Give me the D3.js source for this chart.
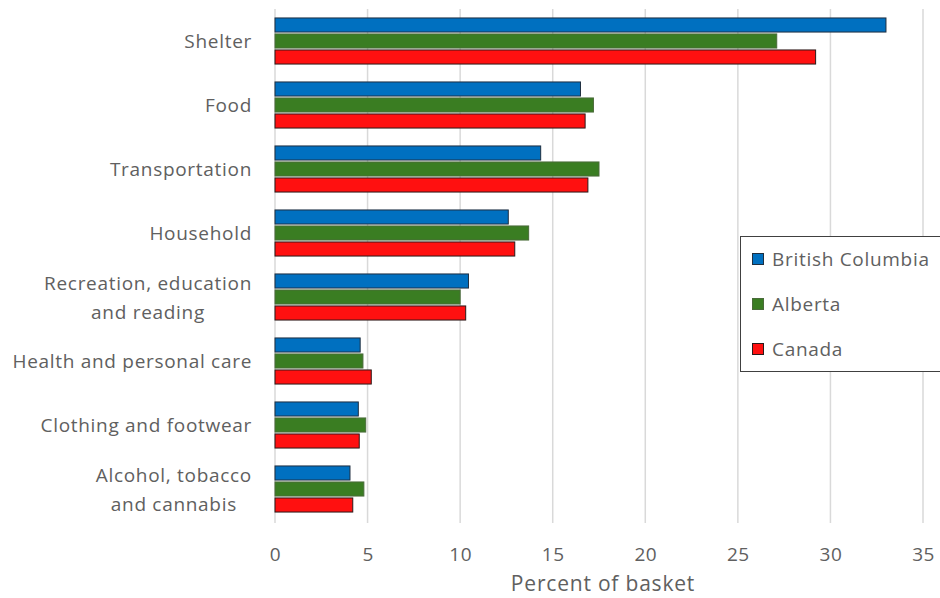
<!DOCTYPE html>
<html>
<head>
<meta charset="utf-8">
<script src="https://cdn.jsdelivr.net/npm/d3@7"></script>
<style>
  html, body { margin: 0; padding: 0; background: #fff; }
  svg text { font-family: "Open Sans", "Noto Sans", sans-serif; fill: #606060; }
</style>
</head>
<body>
<svg id="chart" width="940" height="598"></svg>
<script>
// Basket weights by component (percent)
const categories = [
  ["Shelter"],
  ["Food"],
  ["Transportation"],
  ["Household"],
  ["Recreation, education", "and reading"],
  ["Health and personal care"],
  ["Clothing and footwear"],
  ["Alcohol, tobacco", "and cannabis"]
];
const seriesNames = ["British Columbia", "Alberta", "Canada"];
const britishColumbia = [33.0, 16.5, 14.35, 12.6, 10.45, 4.6, 4.5, 4.05];
const alberta         = [27.1, 17.2, 17.5, 13.7, 10.0, 4.75, 4.9, 4.8];
const canada          = [29.2, 16.75, 16.9, 12.95, 10.3, 5.2, 4.55, 4.2];
const xTicks = [0, 5, 10, 15, 20, 25, 30, 35];
const colors = ["#0070C0", "#3A7D22", "#FF1010"];
const strokes = ["#1f2f40", "#4a6b3a", "#2a1a1a"];

const svg = d3.select("#chart");
const plot = { left: 275, right: 923, top: 9, bottom: 521 };

const x = d3.scaleLinear().domain([0, 35]).range([plot.left, plot.right]);
const y = d3.scaleBand().domain(d3.range(categories.length))
  .range([plot.top, plot.bottom]).paddingInner(0.28).paddingOuter(0.14);
const ySub = d3.scaleBand().domain(d3.range(3)).range([0, y.bandwidth()]).paddingInner(0.12);

// Vertical gridlines
svg.append("g")
  .selectAll("line").data(xTicks).join("line")
  .attr("x1", d => x(d)).attr("x2", d => x(d))
  .attr("y1", plot.top).attr("y2", plot.bottom + 2)
  .attr("stroke", "#d9d9d9").attr("stroke-width", 1.5);

// Bars
const seriesData = [britishColumbia, alberta, canada];
seriesData.forEach((vals, s) => {
  svg.append("g")
    .selectAll("rect").data(vals).join("rect")
    .attr("x", x(0))
    .attr("y", (d, i) => y(i) + ySub(s))
    .attr("width", d => x(d) - x(0))
    .attr("height", ySub.bandwidth())
    .attr("fill", colors[s])
    .attr("stroke", strokes[s])
    .attr("stroke-width", 1);
});

// X axis tick labels
const xAxis = d3.axisBottom(x).tickValues(xTicks).tickSize(0).tickPadding(0);
const gx = svg.append("g").attr("transform", `translate(0,${plot.bottom})`).call(xAxis);
gx.select(".domain").remove();
gx.selectAll("text")
  .attr("y", 40).attr("dy", 0)
  .style("font-size", "19px")
  .style("letter-spacing", "0.5px")
  .style("font-family", "'Open Sans', 'Noto Sans', sans-serif")
  .attr("fill", "#606060");

// Category labels (multi-line labels are centered on each other, block right-aligned)
const gy = svg.append("g");
categories.forEach((lines, i) => {
  const cy = y(i) + y.bandwidth() / 2;
  const t = gy.append("text")
    .attr("text-anchor", "middle")
    .style("font-size", "19px")
    .style("letter-spacing", "0.7px");
  const lh = 29;
  const startY = cy - (lines.length - 1) * lh / 2 + 7;
  lines.forEach((ln, j) => {
    t.append("tspan").attr("x", 0).attr("y", startY + j * lh).text(ln);
  });
  const bbox = t.node().getBBox();
  t.attr("transform", `translate(${252 - bbox.x - bbox.width},0)`);
});

// Axis title
svg.append("text")
  .attr("x", (plot.left + plot.right) / 2 + 4)
  .attr("y", 591)
  .attr("text-anchor", "middle")
  .style("font-size", "21px")
  .style("letter-spacing", "0.8px")
  .text("Percent of basket");

// Legend
const legend = svg.append("g");
legend.append("rect")
  .attr("x", 740.5).attr("y", 236.5).attr("width", 215).attr("height", 135)
  .attr("fill", "#fff").attr("stroke", "#404040").attr("stroke-width", 1);
seriesNames.forEach((name, i) => {
  const cy = 259 + i * 45;
  legend.append("rect")
    .attr("x", 752.5).attr("y", cy - 5.5).attr("width", 11).attr("height", 11)
    .attr("fill", colors[i]).attr("stroke", strokes[i]).attr("stroke-width", 1);
  legend.append("text")
    .attr("x", 772).attr("y", cy + 7)
    .style("font-size", "19px")
    .style("letter-spacing", "0.7px")
    .text(name);
});
</script>
</body>
</html>
